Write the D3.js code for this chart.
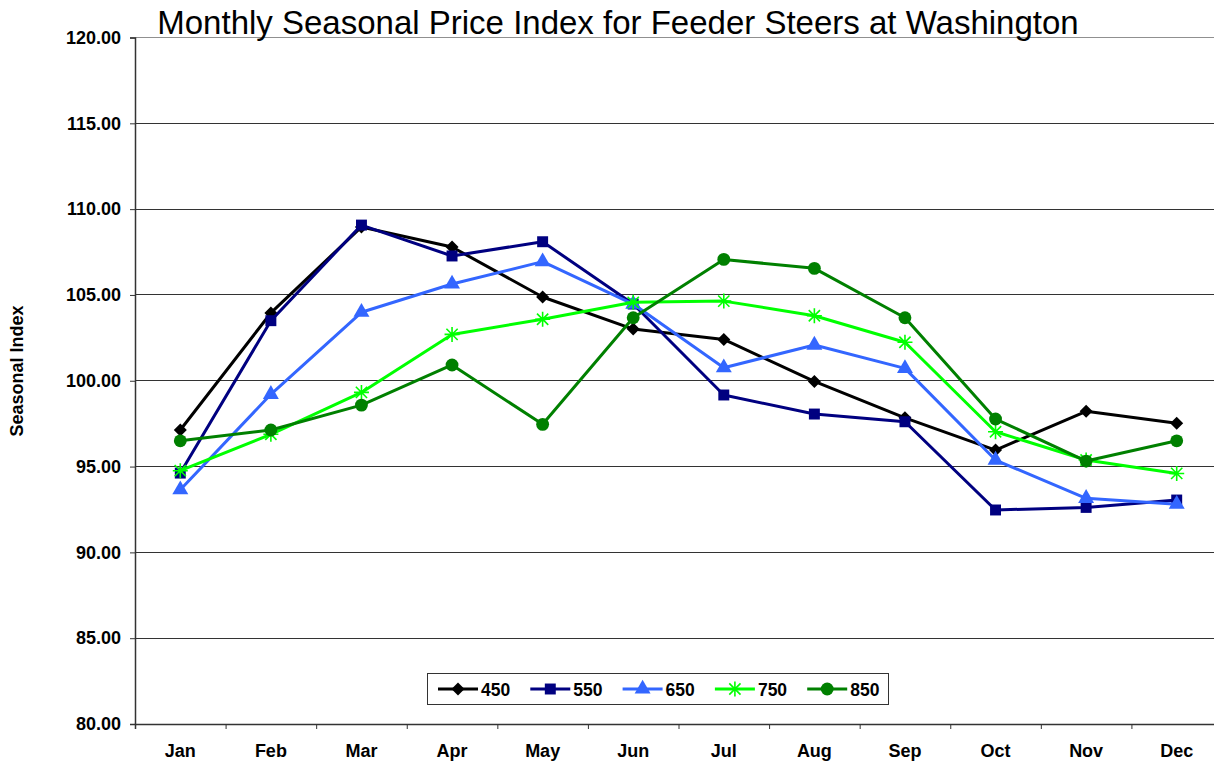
<!DOCTYPE html>
<html>
<head>
<meta charset="utf-8">
<script src="https://cdn.jsdelivr.net/npm/d3@7"></script>
<style>
  body { margin: 0; background: #fff; }
  svg { display: block; font-family: Arial, "Liberation Sans", sans-serif; }
</style>
</head>
<body>
<svg id="chart" width="1214" height="766"></svg>
<script>
const months = ['Jan', 'Feb', 'Mar', 'Apr', 'May', 'Jun', 'Jul', 'Aug', 'Sep', 'Oct', 'Nov', 'Dec'];
const yTicks = [80, 85, 90, 95, 100, 105, 110, 115, 120];

const s450 = [97.13, 103.95, 108.96, 107.79, 104.88, 103.01, 102.41, 99.96, 97.84, 95.96, 98.22, 97.52];
const s550 = [94.62, 103.5, 109.07, 107.27, 108.1, 104.47, 99.17, 98.06, 97.61, 92.47, 92.62, 93.05];
const s650 = [93.65, 99.21, 103.99, 105.64, 106.94, 104.47, 100.76, 102.08, 100.72, 95.38, 93.15, 92.81];
const s750 = [94.76, 96.88, 99.32, 102.7, 103.58, 104.57, 104.64, 103.79, 102.24, 97.03, 95.38, 94.6];
const s850 = [96.5, 97.13, 98.58, 100.92, 97.46, 103.67, 107.07, 106.55, 103.67, 97.77, 95.32, 96.5];

const series = [
  { name: '450', values: s450, color: '#000000', marker: 'diamond' },
  { name: '550', values: s550, color: '#000080', marker: 'square' },
  { name: '650', values: s650, color: '#3366FF', marker: 'triangle' },
  { name: '750', values: s750, color: '#00FF00', marker: 'star' },
  { name: '850', values: s850, color: '#008000', marker: 'circle' },
];

const svg = d3.select('#chart');
const plotLeft = 135, plotRight = 1222, plotTop = 37.5, plotBottom = 724;

const x = d3.scaleBand().domain(months).range([plotLeft, plotRight]).padding(0);
const y = d3.scaleLinear().domain([80, 120]).range([plotBottom, plotTop]);
const xEdges = d3.scaleLinear().domain([0, 12]).range([plotLeft, plotRight]);

// gridlines
svg.append('g')
  .selectAll('line.grid')
  .data(yTicks.filter((d) => d > 80))
  .enter()
  .append('line')
  .attr('class', 'grid')
  .attr('x1', plotLeft)
  .attr('x2', plotRight)
  .attr('y1', (d) => y(d))
  .attr('y2', (d) => y(d))
  .attr('stroke', (d) => (d === 120 ? '#909090' : '#333'))
  .attr('stroke-width', (d) => (d === 120 ? 1.5 : 1))
  .attr('shape-rendering', 'crispEdges');

// y axis
const yAxis = svg.append('g')
  .attr('transform', `translate(${plotLeft},0)`)
  .call(d3.axisLeft(y).tickValues(yTicks).tickSize(5).tickPadding(9).tickFormat(d3.format('.2f')));
yAxis.select('.domain').attr('stroke', '#333').attr('stroke-width', 1.5);
yAxis.selectAll('.tick line').attr('stroke', '#333');
yAxis.selectAll('.tick text')
  .attr('font-size', 18)
  .attr('font-weight', 'bold')
  .attr('fill', '#000')
  .style('font-family', 'Arial, "Liberation Sans", sans-serif');

// x axis tick marks at band edges
const xTickAxis = svg.append('g')
  .attr('transform', `translate(0,${plotBottom})`)
  .call(d3.axisBottom(xEdges).tickValues(d3.range(0, 13)).tickSize(5).tickFormat(''));
xTickAxis.select('.domain').attr('stroke', '#333').attr('stroke-width', 1.5);
xTickAxis.selectAll('.tick line').attr('stroke', '#333');

// x axis labels
const xAxis = svg.append('g')
  .attr('transform', `translate(0,${plotBottom})`)
  .call(d3.axisBottom(x).tickSize(0).tickPadding(20));
xAxis.select('.domain').remove();
xAxis.selectAll('.tick text')
  .attr('font-size', 18)
  .attr('font-weight', 'bold')
  .attr('fill', '#000')
  .style('font-family', 'Arial, "Liberation Sans", sans-serif');

// title
svg.append('text')
  .attr('x', 618)
  .attr('y', 34)
  .attr('text-anchor', 'middle')
  .attr('font-size', 33)
  .text('Monthly Seasonal Price Index for Feeder Steers at Washington');

// y title
svg.append('text')
  .attr('transform', 'translate(23,371) rotate(-90)')
  .attr('text-anchor', 'middle')
  .attr('font-size', 18)
  .attr('font-weight', 'bold')
  .text('Seasonal Index');

const symbolFor = {
  square: d3.symbol().type(d3.symbolSquare).size(120),
  triangle: d3.symbol().type(d3.symbolTriangle).size(110),
  circle: d3.symbol().type(d3.symbolCircle).size(130),
};

function drawMarker(g, kind, color) {
  if (kind === 'star') {
    const r = 7.5;
    const q = r * 0.75;
    g.append('path')
      .attr('d', `M${-r},0H${r}M0,${-r}V${r}M${-q},${-q}L${q},${q}M${-q},${q}L${q},${-q}`)
      .attr('stroke', color)
      .attr('stroke-width', 1.6)
      .attr('fill', 'none');
  } else if (kind === 'diamond') {
    const r = 6.5;
    g.append('path')
      .attr('d', `M0,${-r}L${r},0L0,${r}L${-r},0Z`)
      .attr('fill', color);
  } else {
    g.append('path').attr('d', symbolFor[kind]()).attr('fill', color);
  }
}

const line = d3.line()
  .x((d, i) => x(months[i]) + x.bandwidth() / 2)
  .y((d) => y(d));

const plot = svg.append('g').attr('class', 'series');
series.forEach((s) => {
  plot.append('path')
    .attr('d', line(s.values))
    .attr('fill', 'none')
    .attr('stroke', s.color)
    .attr('stroke-width', 3)
    .attr('stroke-linejoin', 'round');
  s.values.forEach((v, i) => {
    const g = plot.append('g')
      .attr('transform', `translate(${x(months[i]) + x.bandwidth() / 2},${y(v)})`);
    drawMarker(g, s.marker, s.color);
  });
});

// legend
const legend = svg.append('g').attr('class', 'legend');
legend.append('rect')
  .attr('x', 427.5)
  .attr('y', 673.5)
  .attr('width', 461)
  .attr('height', 31)
  .attr('fill', '#fff')
  .attr('stroke', '#333')
  .attr('stroke-width', 1);

series.forEach((s, i) => {
  const lx = 438 + i * 92.3;
  const item = legend.append('g').attr('transform', `translate(${lx},689)`);
  item.append('line')
    .attr('x1', 0).attr('x2', 40)
    .attr('y1', 0).attr('y2', 0)
    .attr('stroke', s.color)
    .attr('stroke-width', 3);
  const m = item.append('g').attr('transform', 'translate(20,0)');
  drawMarker(m, s.marker, s.color);
  item.append('text')
    .attr('x', 43)
    .attr('y', 6.5)
    .attr('font-size', 17.5)
    .attr('font-weight', 'bold')
    .text(s.name);
});
</script>
</body>
</html>
